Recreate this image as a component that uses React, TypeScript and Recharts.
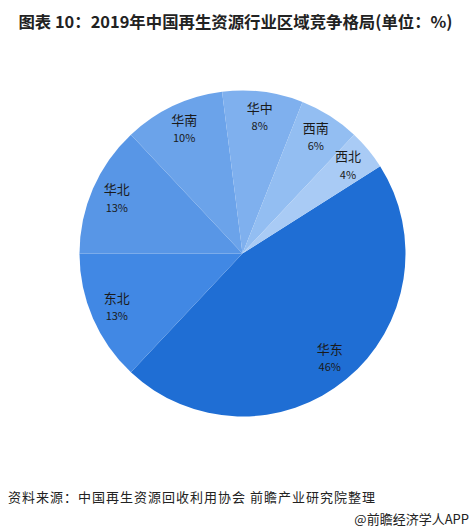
import React from "react";
import { PieChart, Pie, Cell } from "recharts";

// Regional share of China's renewable resource industry, 2019 (%)
const regions = ["华东", "东北", "华北", "华南", "华中", "西南", "西北"];
const shares = [46, 13, 13, 10, 8, 6, 4];
const sliceColors = ["#1f6ed4", "#4188e4", "#5896e6", "#6ba3ea", "#7fb0ee", "#93bef2", "#a9cbf5"];

const data = regions.map((name, i) => ({ name, value: shares[i] }));

const RAD = Math.PI / 180;
const CJK = '"Noto Sans CJK SC", "Noto Sans", sans-serif';

// Two-line label (region name over share) placed inside each slice
const renderLabel = (props: any) => {
  const { cx, cy, midAngle, outerRadius, name, value } = props;
  const r = outerRadius * 0.84;
  const x = cx + r * Math.cos(-midAngle * RAD);
  const y = cy + r * Math.sin(-midAngle * RAD);
  return (
    <g>
      <text x={x} y={y - 5} textAnchor="middle" fontSize={13} fill="#1a1a1a" fontFamily={CJK}>
        {name}
      </text>
      <text x={x} y={y + 12.5} textAnchor="middle" fontSize={11} fill="#1a1a1a" fontFamily={CJK}>
        {`${value}%`}
      </text>
    </g>
  );
};

export default function App() {
  return (
    <div
      style={{
        position: "absolute",
        left: 0,
        top: 0,
        width: 471,
        height: 531,
        background: "#ffffff",
        overflow: "hidden",
        fontFamily: CJK,
      }}
    >
      <div
        style={{
          position: "absolute",
          top: 10,
          left: 0,
          width: 471,
          textAlign: "center",
          fontSize: 16.4,
          fontWeight: 700,
          color: "#222",
          lineHeight: "22px",
          whiteSpace: "nowrap",
        }}
      >
        图表 10：2019年中国再生资源行业区域竞争格局(单位：%)
      </div>
      <div style={{ position: "absolute", top: 0, left: 0 }}>
        <PieChart width={471} height={531} margin={{ top: 0, right: 0, bottom: 0, left: 0 }}>
          <Pie
            data={data}
            dataKey="value"
            nameKey="name"
            cx={242.5}
            cy={253.5}
            outerRadius={163}
            startAngle={32.4}
            endAngle={-327.6}
            stroke="none"
            label={renderLabel}
            labelLine={false}
            isAnimationActive={false}
          >
            {data.map((d, i) => (
              <Cell key={d.name} fill={sliceColors[i]} />
            ))}
          </Pie>
        </PieChart>
      </div>
      <div
        style={{
          position: "absolute",
          left: 8,
          top: 488,
          fontSize: 13,
          color: "#222",
          letterSpacing: 1,
          lineHeight: "18px",
          whiteSpace: "nowrap",
        }}
      >
        资料来源：中国再生资源回收利用协会 前瞻产业研究院整理
      </div>
      <div
        style={{
          position: "absolute",
          right: 2,
          top: 510,
          fontSize: 13,
          color: "#222",
          lineHeight: "18px",
          whiteSpace: "nowrap",
        }}
      >
        @前瞻经济学人APP
      </div>
    </div>
  );
}
